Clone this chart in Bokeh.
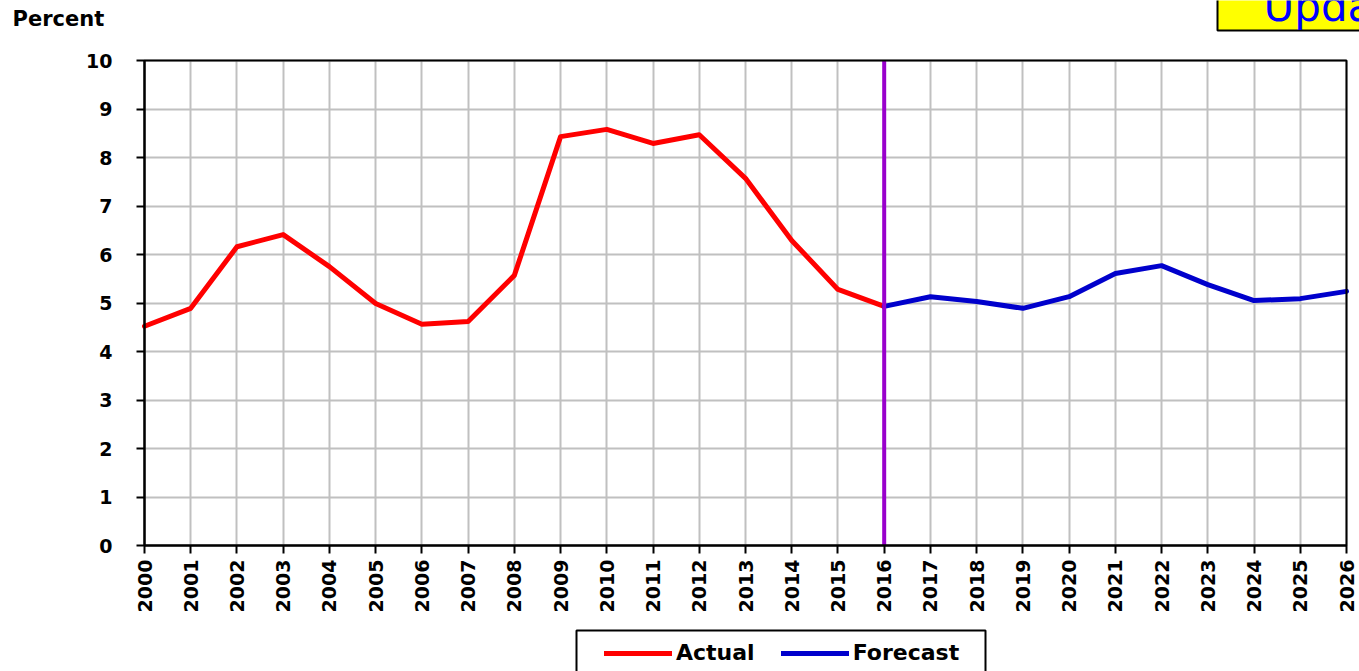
import math
from bokeh.plotting import figure
from bokeh.models import (FixedTicker, Label, Legend, LegendItem, Range1d,
                          LinearAxis, Grid, BoxAnnotation)
from bokeh.embed import file_html
from bokeh.resources import INLINE

# ---- data ----
actual_years = list(range(2000, 2017))
actual_vals = [4.52, 4.89, 6.16, 6.41, 5.75, 4.99, 4.56, 4.62, 5.57, 8.43,
               8.58, 8.29, 8.47, 7.57, 6.29, 5.28, 4.93]
forecast_years = list(range(2016, 2027))
forecast_vals = [4.93, 5.13, 5.03, 4.89, 5.13, 5.61, 5.77, 5.38, 5.05, 5.09, 5.24]
split_year = 2016
x_ticks = list(range(2000, 2027))
y_ticks = list(range(0, 11))
y_label = "Percent"
badge_text = "Update"

# ---- layout (pixels) ----
W, H = 1359, 671
PL, PR, PT, PB = 144, 1346, 60, 545          # plot area in canvas pixels
x0, x1 = x_ticks[0], x_ticks[-1]
y0, y1 = y_ticks[0], y_ticks[-1]
kx = (PR - PL) / (x1 - x0)
ky = (PB - PT) / (y1 - y0)

def dx(px):
    return x0 + (px - PL) / kx

def dy(py):
    return y0 + (PB - py) / ky

FONT = "DejaVu Sans"

p = figure(width=W, height=H, output_backend="svg", toolbar_location=None,
           x_axis_type=None, y_axis_type=None,
           x_range=Range1d(dx(0), dx(W)), y_range=Range1d(dy(H), dy(0)),
           min_border=0, min_border_left=0, min_border_right=0,
           min_border_top=0, min_border_bottom=0)
p.background_fill_color = "white"
p.border_fill_color = "white"
p.outline_line_color = None

# grid
p.add_layout(Grid(dimension=0, ticker=FixedTicker(ticks=x_ticks),
                  bounds=(x0, x1), cross_bounds=(y0, y1),
                  grid_line_color="#C0C0C0", grid_line_width=2))
p.add_layout(Grid(dimension=1, ticker=FixedTicker(ticks=y_ticks),
                  bounds=(y0, y1), cross_bounds=(x0, x1),
                  grid_line_color="#C0C0C0", grid_line_width=2))

# lines
r_act = p.line(actual_years, actual_vals, line_color="#FF0000", line_width=5,
               line_join="round", line_cap="round")
r_fc = p.line(forecast_years, forecast_vals, line_color="#0000CC", line_width=5,
              line_join="round", line_cap="round")
p.segment(x0=[split_year], y0=[y0], x1=[split_year], y1=[y1],
          line_color="#9900CC", line_width=4)

# plot border
p.add_layout(BoxAnnotation(left=x0, right=x1, bottom=y0, top=y1,
                           fill_alpha=0, line_color="black", line_alpha=1,
                           line_width=2))

# axes
xax = LinearAxis(fixed_location=y0, ticker=FixedTicker(ticks=x_ticks),
                 bounds=(x0, x1))
yax = LinearAxis(fixed_location=x0, ticker=FixedTicker(ticks=y_ticks),
                 bounds=(y0, y1))
for ax in (xax, yax):
    ax.axis_line_color = "black"
    ax.axis_line_width = 2
    ax.major_tick_line_color = "black"
    ax.major_tick_line_width = 2
    ax.major_tick_in = 0
    ax.major_tick_out = 8
    ax.minor_tick_line_color = None
    ax.major_label_text_font = FONT
    ax.major_label_text_font_style = "bold"
    ax.major_label_text_font_size = "19px"
    ax.major_label_text_color = "black"
xax.major_label_orientation = math.pi / 2
xax.major_label_standoff = 6
yax.major_label_standoff = 24
p.add_layout(xax, "below")
p.add_layout(yax, "left")

# y label "Percent"
p.add_layout(Label(x=dx(12), y=dy(18), text=y_label,
                   text_font=FONT, text_font_style="bold", text_font_size="21px",
                   text_color="black", text_baseline="middle", text_align="left"))

# yellow badge top-right (partly outside the page)
p.add_layout(Label(x=dx(1217), y=dy(30), text=badge_text, text_font=FONT,
                   text_font_size="42px", text_color="#0000FF",
                   anchor="bottom_left",
                   background_fill_color="#FFFF00",
                   border_line_color="black", border_line_width=2,
                   padding=dict(left=46, right=20, top=10, bottom=0)))

# legend frame and legend
p.add_layout(BoxAnnotation(left=dx(576), right=dx(985), top=dy(630), bottom=dy(H + 20),
                           fill_color="white", fill_alpha=1,
                           line_color="black", line_alpha=1, line_width=2))
legend = Legend(items=[LegendItem(label="Actual", renderers=[r_act]),
                       LegendItem(label="Forecast", renderers=[r_fc])],
                orientation="horizontal", location=(604, H - 665),
                border_line_color=None, background_fill_alpha=0,
                label_text_font=FONT, label_text_font_style="bold",
                label_text_color="black",
                label_text_font_size="22px", glyph_width=68, glyph_height=20,
                label_standoff=4, spacing=26, padding=13, margin=0)
p.add_layout(legend, "center")

open("out.html", "w").write(file_html(p, INLINE))
